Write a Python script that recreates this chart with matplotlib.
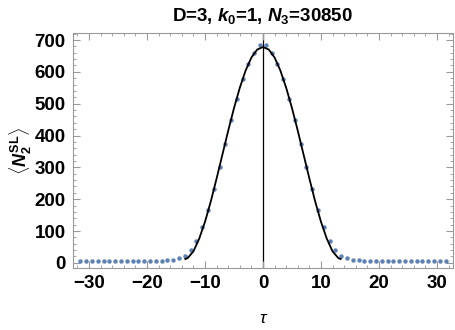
import numpy as np
import matplotlib as mpl
mpl.use("Agg")
import matplotlib.pyplot as plt
from matplotlib.ticker import MultipleLocator

# measured points <N2^SL> at half-integer tau
tau = np.arange(-31.5, 32.0, 1.0)
right_half = [685, 660, 625, 576, 516, 449, 374, 302, 231, 166, 112, 70, 41, 22, 14, 10,
              8, 7, 7, 7, 7, 7, 7, 7, 7, 7, 7, 7, 7, 7, 7, 7]
n2_sl = right_half[::-1] + right_half

# fitted curve
fit_tau = [-13.4, -13, -12, -11, -10, -9, -8, -7, -6, -5, -4, -3, -2, -1, 0,
           1, 2, 3, 4, 5, 6, 7, 8, 9, 10, 11, 12, 13, 13.4]
fit_val = [12, 15, 36, 76, 129, 193, 265, 340, 415, 486, 550, 604, 645, 670, 678,
           670, 645, 604, 550, 486, 415, 340, 265, 193, 129, 76, 36, 15, 12]

plt.rcParams['font.family'] = ['Liberation Sans', 'DejaVu Sans']
plt.rcParams['mathtext.fontset'] = 'custom'
plt.rcParams['mathtext.rm'] = 'Liberation Sans:bold'
plt.rcParams['mathtext.bf'] = 'Liberation Sans:bold'
plt.rcParams['mathtext.it'] = 'Liberation Sans:italic:bold'

fig = plt.figure(figsize=(4.55, 3.3), dpi=100)
ax = fig.add_axes([0.160, 0.188, 0.836, 0.712])

ax.axvline(0, color='black', lw=0.9, zorder=1)
ax.plot(tau, n2_sl, 'o', color='#5E81B5', markersize=3.2, markeredgewidth=0, zorder=2)
ax.plot(fit_tau, fit_val, color='black', lw=1.3, zorder=3)

ax.set_xlim(-32.8, 32.8)
ax.set_ylim(-16, 722)
ax.xaxis.set_major_locator(MultipleLocator(10))
ax.xaxis.set_minor_locator(MultipleLocator(2))
ax.yaxis.set_major_locator(MultipleLocator(100))
ax.yaxis.set_minor_locator(MultipleLocator(20))

for s in ax.spines.values():
    s.set_color('#999999')
    s.set_linewidth(0.8)
ax.tick_params(which='both', direction='in', top=True, right=True, color='#999999')
ax.tick_params(which='major', length=5, width=0.8, labelsize=13.5, pad=5)
ax.tick_params(which='minor', length=2.5, width=0.6)
for lab in ax.get_xticklabels() + ax.get_yticklabels():
    lab.set_fontweight('bold')
ax.set_xticklabels([str(int(v)).replace('-', '\u2212') for v in ax.get_xticks()])

ax.set_title(r'D=3, $k_0$=1, $N_3$=30850', fontsize=13.5, fontweight='bold', pad=9)
ax.set_xlabel('\u03c4', fontsize=12.5, style='italic', labelpad=14)
ax.set_ylabel(r'$\langle N_2^{\mathrm{SL}}\rangle$', fontsize=13, va='center')
ax.yaxis.set_label_coords(-0.137, 0.5)

plt.savefig('out.png', dpi=100)
